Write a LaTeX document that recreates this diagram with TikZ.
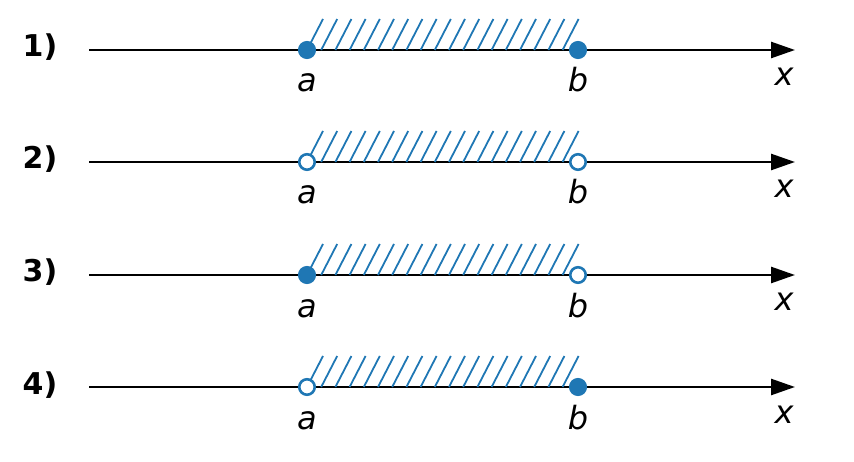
\documentclass[tikz,border=0pt]{standalone}
\usepackage{fontspec}
\setmainfont{DejaVu Sans}
\usetikzlibrary{arrows.meta}
\definecolor{mplblue}{HTML}{1F77B4}
\begin{document}
\begin{tikzpicture}[x=1pt, y=-1pt,
	axis/.style = {draw, line width=2.6pt, -{Triangle[length=24pt, width=16pt]}},
	hatch/.style = {mplblue, line width=1.8pt},
	full/.style = {circle, draw=mplblue, fill=mplblue, line width=2.6pt, inner sep=0pt, minimum size=15.5pt},
	open/.style = {full, fill=white},
	lbl/.style = {font=\fontsize{30}{35}\selectfont\bfseries, anchor=base, inner sep=0pt},
	var/.style = {font=\fontsize{32}{37}\selectfont\itshape, anchor=base, inner sep=0pt}]
	
	\useasboundingbox (0,0) rectangle (854,462);
	
	% one number line per case, end points full or open
	\foreach \n/\y/\sa/\sb in {1/50/full/full, 2/162/open/open, 3/275/full/open, 4/387/open/full} {
		\node[lbl] (lab\n) at (40,\y+7) {\n)};
		\coordinate (s\n) at (89,\y);
		\coordinate (e\n) at (795,\y);
		\draw[axis] (s\n) -- (e\n);
		
		% hatching over the interval
		\foreach \k in {0,...,18}
		\draw[hatch] (307+\k*14.2,\y) -- ++(16,-31);
		
		\node[\sa] (a\n) at (307,\y) {};
		\node[\sb] (b\n) at (578,\y) {};
		\node[var] (ta\n) at ([yshift=-42pt]a\n.center) {a};
		\node[var] (tb\n) at ([yshift=-42pt]b\n.center) {b};
		\node[var] (tx\n) at ([xshift=-11pt, yshift=-36pt]e\n) {x};
	}
\end{tikzpicture}
\end{document}
